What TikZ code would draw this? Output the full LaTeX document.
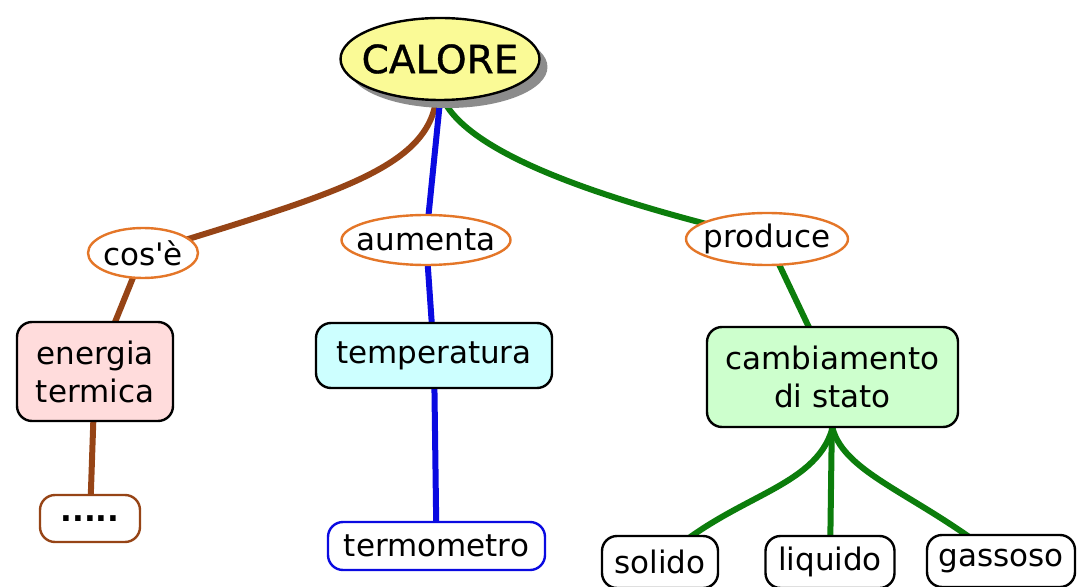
\documentclass[tikz,border=0pt]{standalone}
\usepackage{fontspec}
\setmainfont{DejaVu Sans}
\newfontfamily\calfont{DejaVu Sans}[FakeBold=0.8]
\usetikzlibrary{shapes.geometric,shadows,backgrounds}
\definecolor{cbrown}{RGB}{150,68,22}
\definecolor{cblue}{RGB}{10,10,225}
\definecolor{cgreen}{RGB}{12,125,12}
\definecolor{corange}{RGB}{228,118,40}
\definecolor{cyellow}{RGB}{250,250,150}
\definecolor{cpink}{RGB}{255,220,220}
\definecolor{ccyan}{RGB}{205,255,255}
\definecolor{clgreen}{RGB}{205,255,205}
\definecolor{cshadow}{RGB}{140,140,140}
\tikzset{
  lbl/.style={font=\fontsize{15.5}{19}\selectfont},
  linkword/.style={ellipse, draw=corange, line width=1.2pt, fill=white, inner xsep=-4.8pt, inner ysep=0pt, lbl},
  concept/.style={rounded corners=7.5pt, draw=black, line width=1.2pt, inner sep=0pt, align=center, lbl},
  conn/.style={line width=3pt, line cap=round},
}
\begin{document}
\begin{tikzpicture}[x=0.5pt,y=-0.5pt]
\useasboundingbox (0,0) rectangle (1079,587);
\node[ellipse, draw=black, line width=1.2pt, fill=cyellow, minimum width=98pt, minimum height=41pt, inner xsep=-4pt, inner ysep=0pt,
  drop shadow={shadow xshift=4pt, shadow yshift=-4pt, fill=cshadow, opacity=1},
  font=\calfont\fontsize{19.5}{22}\selectfont] (calore) at (440,59) {CALORE};
\node[linkword, minimum width=55pt, minimum height=25pt] (cose) at (143,253) {cos\textquotesingle è};
\node[linkword, minimum width=84.5pt, minimum height=25pt] (aumenta) at (426,240) {aumenta};
\node[linkword, minimum width=81pt, minimum height=26pt] (produce) at (767,239) {produce};
\node[concept, fill=cpink, minimum width=78pt, minimum height=49.5pt] (energia) at (95,371.5) {energia\\termica};
\node[concept, fill=ccyan, minimum width=118pt, minimum height=32.5pt] (temperatura) at (434,355.5) {temperatura};
\node[concept, fill=clgreen, minimum width=125.5pt, minimum height=50pt] (cambiamento) at (832.5,377) {cambiamento\\di stato};
\node[concept, draw=cbrown, fill=white, minimum width=50pt, minimum height=23.5pt] (dots) at (90,518.5) {\textbf{.....}};
\node[concept, draw=cblue, fill=white, minimum width=108.5pt, minimum height=24pt] (termometro) at (436.5,546) {termometro};
\node[concept, fill=white, minimum width=58pt, minimum height=26pt] (solido) at (660,562) {solido};
\node[concept, fill=white, minimum width=64.5pt, minimum height=26pt] (liquido) at (830,562) {liquido};
\node[concept, fill=white, minimum width=74pt, minimum height=26pt] (gassoso) at (1001,561) {\raisebox{3pt}{gassoso}};
\begin{pgfonlayer}{background}
\draw[conn, cbrown] (calore.center) -- ([xshift=-2pt]calore.south) .. controls (425,170) and (330,195) .. (cose.center);
\draw[conn, cblue] (calore.center) -- (calore.south) -- (aumenta.center);
\draw[conn, cgreen] (calore.center) -- ([xshift=2pt]calore.south) .. controls (470,150) and (580,195) .. (produce.center);
\draw[conn, cbrown] (cose.center) -- (energia.center);
\draw[conn, cbrown] (energia.center) -- (dots.center);
\draw[conn, cblue] (aumenta.center) -- (temperatura.center);
\draw[conn, cblue] (temperatura.center) -- (termometro.center);
\draw[conn, cgreen] (produce.center) -- (cambiamento.center);
\draw[conn, cgreen] (cambiamento.center) -- (cambiamento.south) .. controls (815,490) and (730,495) .. (solido.center);
\draw[conn, cgreen] (cambiamento.center) -- (liquido.center);
\draw[conn, cgreen] (cambiamento.center) -- (cambiamento.south) .. controls (845,475) and (920,495) .. (gassoso.center);
\end{pgfonlayer}
\end{tikzpicture}
\end{document}
